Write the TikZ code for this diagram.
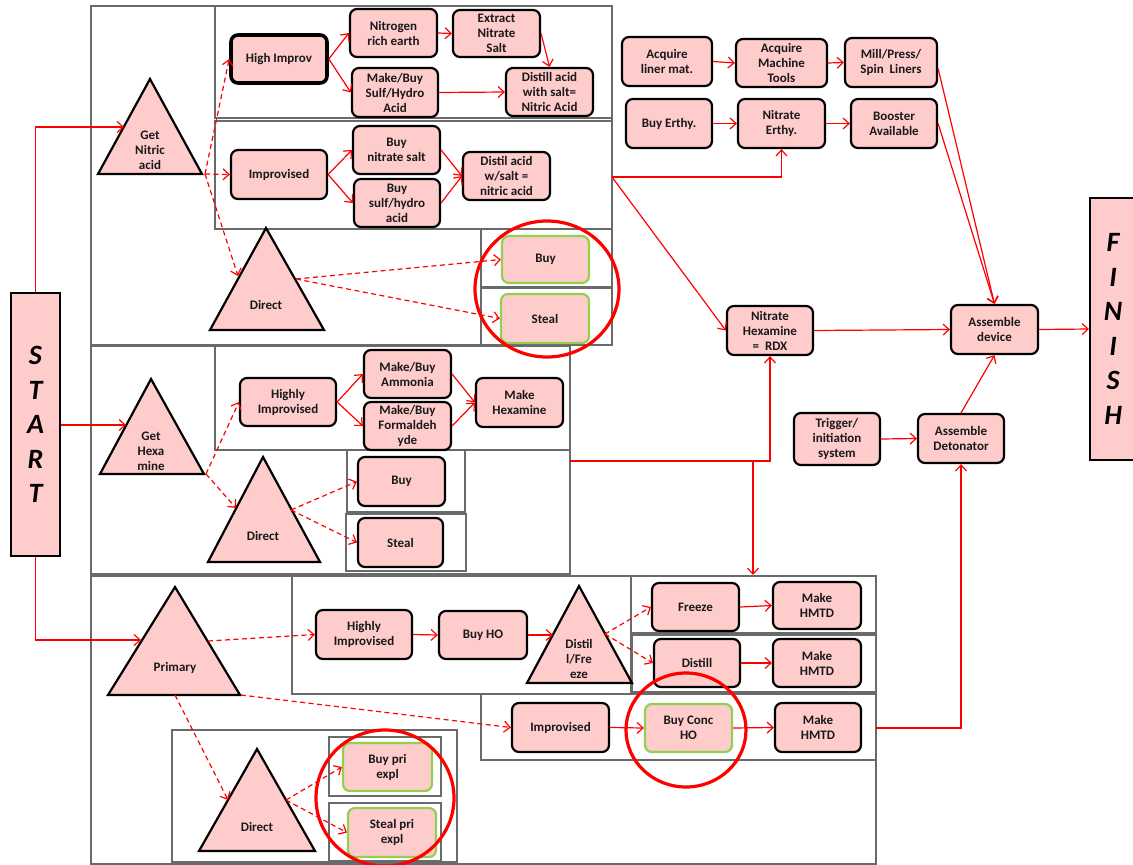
\documentclass[tikz,border=0pt]{standalone}
\usepackage{fontspec}
\setmainfont{Carlito}
\usetikzlibrary{arrows.meta,calc}
\definecolor{pinkfill}{HTML}{FFCCCC}
\definecolor{greenedge}{HTML}{92D050}
\definecolor{framegray}{HTML}{6A6A6A}
\tikzset{
  box/.style={rectangle, rounded corners=7pt, draw=black, line width=2.2pt, fill=pinkfill,
    align=center, inner sep=0pt, text=black!90,
    font=\bfseries\fontsize{13}{15}\selectfont},
  greenbox/.style={draw=greenedge},
  thickbox/.style={line width=3.6pt},
  tri/.style={draw=black, line width=2.2pt, fill=pinkfill, line join=miter},
  trilabel/.style={align=center, inner sep=0pt, text=black!90, font=\bfseries\fontsize{13}{15}\selectfont},
  frame/.style={draw=framegray, line width=2pt},
  arr/.style={draw=red, line width=1.2pt, -{Straight Barb[length=6pt,width=11pt,line width=1.2pt]}},
  darr/.style={arr, dash pattern=on 5pt off 3.5pt},
  ring/.style={draw=red, line width=3.2pt},
  bigbox/.style={rectangle, draw=black, line width=2.2pt, fill=pinkfill, inner sep=0pt,
    align=center, font=\bfseries\itshape\fontsize{28}{34.5}\selectfont}
}
\newcommand\bx[7][]{\node[box,#1,minimum width={(#5-#3)*1pt},minimum height={(#6-#4)*1pt}] (#2) at ({(#3+#5)/2},{(#4+#6)/2}) {#7};}
\begin{document}
\begin{tikzpicture}[x=1pt,y=-1pt]
\useasboundingbox (0,0) rectangle (1133,865);
\fill[white] (0,0) rectangle (1133,865);

% ---------- frames ----------
\draw[frame] (91,6) rectangle (612,345);
\draw[frame] (215,6) rectangle (612,118);
\draw[frame] (215,121) rectangle (612,229);
\draw[frame] (481,229) rectangle (612,287);
\draw[frame] (481,288) rectangle (612,345);

\draw[frame] (91,346) rectangle (570,574);
\draw[frame] (215,346) rectangle (570,450);
\draw[frame] (347,450) rectangle (465,512);
\draw[frame] (346,514) rectangle (466,571);

\draw[frame] (91,576) rectangle (876,864);
\draw[frame] (292,576) rectangle (631,694);
\draw[frame] (631,576) rectangle (876,633);
\draw[frame] (632,635) rectangle (876,692);
\draw[frame] (481,694) rectangle (876,760);
\draw[frame] (172,730) rectangle (457,862);
\draw[frame] (329,737) rectangle (441,796);
\draw[frame] (329,803) rectangle (441,861);

% ---------- START / FINISH ----------
\node[bigbox, minimum width=49pt, minimum height=263pt] (start) at (35.5,424.5) {S\\T\\A\\R\\T};
\node[bigbox, minimum width=60pt, minimum height=262pt, text width=46pt, anchor=west] (finish) at (1089,329) {\hspace*{-14pt}F\\\hspace*{-14pt}I\\\hspace*{-14pt}N\\\hspace*{-14pt}I\\\hspace*{-14pt}S\\\hspace*{-14pt}H};

% ---------- triangles ----------
\draw[tri] (150,79) -- (98,174) -- (202,174) -- cycle;
\node[trilabel] (gnt) at (150,150) {Get\\Nitric\\acid};
\draw[tri] (266,228) -- (210,330) -- (324,330) -- cycle;
\node[trilabel] (dnt) at (266,305) {Direct};
\draw[tri] (151,379) -- (100,474) -- (204,474) -- cycle;
\node[trilabel] (ght) at (151,451) {Get\\Hexa\\mine};
\draw[tri] (263,457) -- (208,562) -- (320,562) -- cycle;
\node[trilabel] (dht) at (263,536) {Direct};
\draw[tri] (175,587) -- (108,695) -- (240,695) -- cycle;
\node[trilabel] (prt) at (175,668) {Primary};
\draw[tri] (257,749) -- (199,851) -- (315,851) -- cycle;
\node[trilabel] (dpt) at (257,827) {Direct};
\draw[tri] (579,586) -- (527,683) -- (632,683) -- cycle;
\node[trilabel] (dst) at (579,659) {Distil\\l/Fre\\eze};

% connector coordinates on triangles / frames
\coordinate (gnL) at (124,127);
\coordinate (gnR) at (205,174);
\coordinate (dnL) at (238,276);
\coordinate (dnR) at (296,279);
\coordinate (ghL) at (126,425);
\coordinate (ghR) at (206,474);
\coordinate (dhL) at (236,508);
\coordinate (dhR) at (291,510);
\coordinate (pL) at (141,640);
\coordinate (pR) at (208,641);
\coordinate (pBR) at (241,695);
\coordinate (pB) at (175,695);
\coordinate (dpL) at (228,800);
\coordinate (dpR) at (286,800);
\coordinate (dsL) at (553,635);
\coordinate (dsR) at (605,634);
\coordinate (nbR) at (612,177);
\coordinate (hbR) at (570,461);
\coordinate (pbT) at (753,575);
\coordinate (ibR) at (876,728);

% ---------- nitric section ----------
\bx[thickbox]{hi}{231}{35}{327}{83}{High Improv}
\bx{nre}{350}{9}{437}{57}{Nitrogen\\rich earth}
\bx{ens}{453}{10}{540}{57}{Extract\\Nitrate\\Salt}
\bx{mbs}{352}{68}{438}{117}{Make/Buy\\Sulf/Hydro\\Acid}
\bx{dist}{506}{68}{593}{116}{Distill acid\\with salt=\\Nitric Acid}
\bx{imp}{231}{150}{327}{199}{Improvised}
\bx{bns}{353}{126}{440}{174}{Buy\\nitrate salt}
\bx{bsh}{354}{179}{440}{227}{Buy\\sulf/hydro\\acid}
\bx{dsw}{463}{152}{550}{200}{Distil acid\\w/salt =\\nitric acid}
\bx[greenbox]{buyn}{502}{236}{589}{283}{Buy}
\bx[greenbox]{stealn}{501}{294}{589}{343}{Steal}

% ---------- hexamine section ----------
\bx{hih}{240}{378}{336}{426}{Highly\\Improvised}
\bx{amm}{364}{350}{451}{398}{Make/Buy\\Ammonia}
\bx{form}{364}{402}{451}{450}{Make/Buy\\Formaldeh\\yde}
\bx{mkh}{476}{378}{563}{427}{Make\\Hexamine}
\bx{buyh}{358}{457}{445}{506}{Buy}
\bx{stealh}{358}{518}{443}{567}{Steal}

% ---------- primary section ----------
\bx{hip}{316}{610}{412}{659}{Highly\\Improvised}
\bx{bho}{439}{611}{527}{659}{Buy HO}
\bx{frz}{652}{583}{739}{631}{Freeze}
\bx{hm1}{773}{582}{861}{629}{Make\\HMTD}
\bx{dstl}{654}{639}{740}{687}{Distill}
\bx{hm2}{773}{639}{861}{687}{Make\\HMTD}
\bx{impp}{512}{703}{609}{752}{Improvised}
\bx[greenbox]{bch}{645}{704}{732}{752}{Buy Conc\\HO}
\bx{hm3}{775}{703}{861}{752}{Make\\HMTD}
\bx[greenbox]{bpe}{343}{743}{432}{791}{Buy pri\\expl}
\bx[greenbox]{spe}{348}{808}{436}{857}{Steal pri\\expl}

% ---------- right part ----------
\bx{alm}{622}{37}{712}{86}{Acquire\\liner mat.}
\bx{amt}{736}{39}{827}{87}{Acquire\\Machine\\Tools}
\bx{mill}{845}{38}{937}{87}{Mill/Press/\\Spin~~Liners}
\bx{be}{626}{99}{712}{148}{Buy Erthy.}
\bx{ne}{738}{99}{825}{148}{Nitrate\\Erthy.}
\bx{boost}{851}{99}{937}{148}{Booster\\Available}
\bx{rdx}{727}{306}{813}{355}{Nitrate\\Hexamine\\=~~RDX}
\bx{asm}{951}{305}{1038}{354}{Assemble\\device}
\bx{trig}{794}{413}{880}{465}{Trigger/\\initiation\\system}
\bx{det}{918}{414}{1004}{463}{Assemble\\Detonator}

% ---------- connectors ----------
\draw[arr] (start.north) |- (gnL);
\draw[arr] (start.east |- ghL) -- (ghL);
\draw[arr] (start.south) |- (pL);

\draw[darr] (gnR) -- (hi.west);
\draw[darr] (gnR) -- (imp.west);
\draw[darr] (gnR) -- (dnL);
\draw[arr] (hi.east) -- (nre.west);
\draw[arr] (hi.east) -- (mbs.west);
\draw[arr] (nre.east) -- (ens.west);
\draw[arr] (ens.east) -- (dist.north);
\draw[arr] (mbs.east) -- (dist.west);
\draw[arr] (imp.east) -- (bns.west);
\draw[arr] (imp.east) -- (bsh.west);
\draw[arr] (bns.east) -- (dsw.west);
\draw[arr] (bsh.east) -- (dsw.west);
\draw[darr] (dnR) -- (buyn.west);
\draw[darr] (dnR) -- (stealn.west);

\draw[darr] (ghR) -- (hih.west);
\draw[darr] (ghR) -- (dhL);
\draw[arr] (hih.east) -- (amm.west);
\draw[arr] (hih.east) -- (form.west);
\draw[arr] (amm.east) -- (mkh.west);
\draw[arr] (form.east) -- (mkh.west);
\draw[darr] (dhR) -- (buyh.west);
\draw[darr] (dhR) -- (stealh.west);

\draw[darr] (pR) -- (hip.west);
\draw[arr] (hip.east) -- (bho.west);
\draw[arr] (bho.east) -- (dsL);
\draw[darr] (dsR) -- (frz.west);
\draw[darr] (dsR) -- (dstl.west);
\draw[arr] (frz.east) -- (hm1.west);
\draw[arr] (dstl.east) -- (hm2.west);
\draw[darr] (pBR) -- (impp.west);
\draw[arr] (impp.east) -- (bch.west);
\draw[arr] (bch.east) -- (hm3.west);
\draw[darr] (pB) -- (dpL);
\draw[darr] (dpR) -- (bpe.west);
\draw[darr] (dpR) -- (spe.west);

\draw[arr] (alm.east) -- (amt.west);
\draw[arr] (amt.east) -- (mill.west);
\draw[arr] (be.east) -- (ne.west);
\draw[arr] (ne.east) -- (boost.west);
\draw[arr] (nbR) -| (ne.south);
\draw[arr] (nbR) -- (rdx.west);
\draw[arr] (hbR) -| (rdx.south);
\draw[arr] (hbR -| pbT) -- (pbT);
\draw[arr] ($(mill.east)+(0,6)$) -- (asm.north);
\draw[arr] (boost.east) -- (asm.north);
\draw[arr] (rdx.east) -- (asm.west);
\draw[arr] (asm.east) -- (finish.west);
\draw[arr] (trig.east) -- (det.west);
\draw[arr] (det.north) -- (asm.south);
\draw[arr] (ibR) -| (det.south);

% ---------- red rings ----------
\draw[ring] (547,289) ellipse [x radius=72, y radius=68];
\draw[ring] (686,730) ellipse [x radius=60, y radius=57];
\draw[ring] (385,798) ellipse [x radius=69, y radius=68];
\end{tikzpicture}
\end{document}
